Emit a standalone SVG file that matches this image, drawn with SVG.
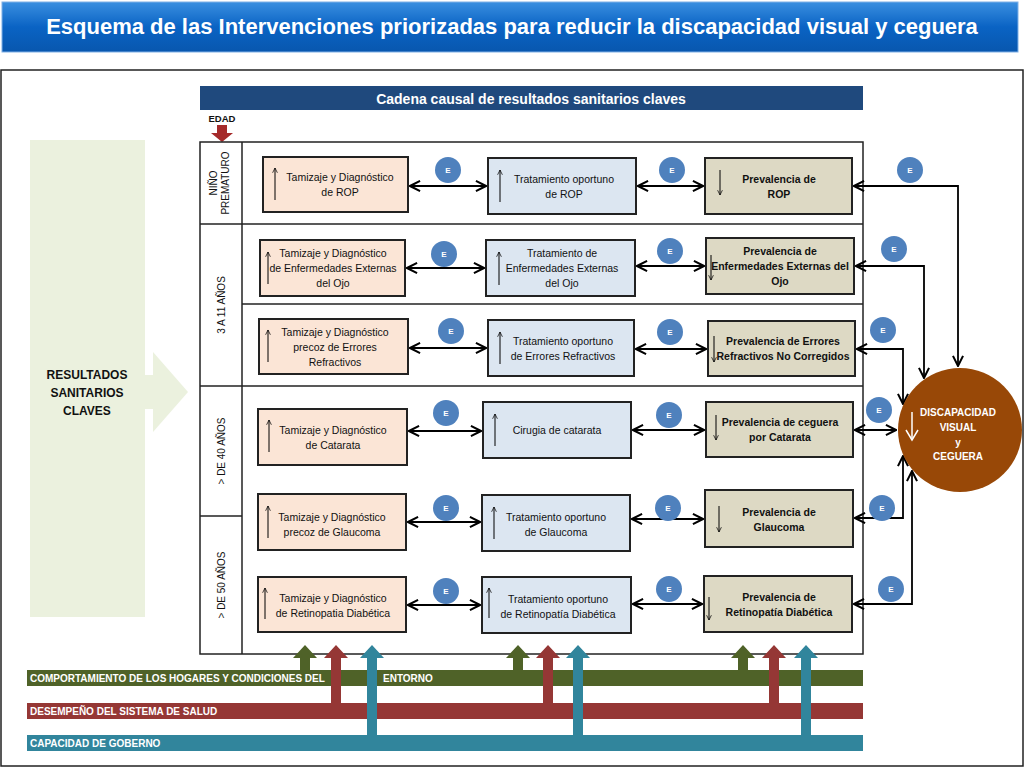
<svg xmlns="http://www.w3.org/2000/svg" width="1024" height="768" viewBox="0 0 1024 768">
<defs>
<linearGradient id="tg" x1="0" y1="0" x2="0" y2="1"><stop offset="0" stop-color="#3a8fe0"/><stop offset="0.5" stop-color="#0a63c4"/><stop offset="1" stop-color="#0857ae"/></linearGradient>
<marker id="ah" viewBox="0 0 10 10" refX="9" refY="5" markerWidth="7" markerHeight="7" orient="auto-start-reverse"><path d="M1,1 L9,5 L1,9" fill="none" stroke="#000" stroke-width="1.6"/></marker>
<marker id="sh" viewBox="0 0 10 10" refX="9" refY="5" markerWidth="6" markerHeight="6" orient="auto"><path d="M1,1 L9,5 L1,9" fill="none" stroke="#000" stroke-width="1.2"/></marker>
<style>
.t{font-family:"Liberation Sans",Arial,sans-serif;font-size:10.5px;fill:#111;text-anchor:middle}
.b{font-weight:bold}
.A{fill:#fbe5d6;stroke:#222;stroke-width:2}
.B{fill:#dce6f1;stroke:#222;stroke-width:2}
.C{fill:#ddd9c4;stroke:#222;stroke-width:2}
.e circle{fill:#4f81bd}
.e text{font-family:"Liberation Sans",sans-serif;font-size:8px;fill:#fff;text-anchor:middle;font-weight:bold}
.c{fill:none;stroke:#000;stroke-width:1.8}
.ia{stroke:#000;stroke-width:1;marker-end:url(#sh)}
.bw{font-family:"Liberation Sans",sans-serif;font-size:10px;fill:#fff;font-weight:bold}
.ag{font-family:"Liberation Sans",sans-serif;font-size:10px;fill:#111;text-anchor:middle}
</style>
</defs>
<rect x="0" y="0" width="1024" height="768" fill="#fff"/>
<g id="title"><rect x="2" y="2" width="1016" height="50" fill="url(#tg)" stroke="#7fb0e6"/>
<text x="512" y="34" style="font-family:'Liberation Sans',Arial,sans-serif;font-size:22px;font-weight:bold;fill:#fff;text-anchor:middle">Esquema de las Intervenciones priorizadas para reducir la discapacidad visual y ceguera</text></g>
<rect x="1" y="70" width="1022" height="696" fill="none" stroke="#222" stroke-width="1.5"/>
<g id="header"><rect x="200" y="86" width="663" height="24" fill="#1f497d"/>
<text x="531" y="104" style="font-family:'Liberation Sans',sans-serif;font-size:14px;font-weight:bold;fill:#fff;text-anchor:middle">Cadena causal de resultados sanitarios claves</text></g>
<g id="edad"><text x="222" y="122" class="t b" style="font-size:9.5px">EDAD</text>
<path d="M217,125 h10 v8 h6 l-11,9 l-11,-9 h6 z" fill="#a52a2a"/></g>
<g id="left"><rect x="30" y="140" width="115" height="477" fill="#ebf1de"/>
<path d="M145,375 h8 v-23 l35,40 l-35,40 v-23 h-8 z" fill="#ebf1de"/>
<text class="t b" style="font-size:12px"><tspan x="87" y="379">RESULTADOS</tspan><tspan x="87" y="397">SANITARIOS</tspan><tspan x="87" y="415">CLAVES</tspan></text></g>
<g id="table" fill="none" stroke="#222" stroke-width="1.5">
<rect x="200" y="142" width="663" height="512" fill="#fff"/>
<line x1="242" y1="142" x2="242" y2="654"/>
<line x1="200" y1="224" x2="863" y2="224"/>
<line x1="242" y1="304" x2="863" y2="304"/>
<line x1="200" y1="386" x2="863" y2="386"/>
<line x1="200" y1="516" x2="242" y2="516"/>
</g>
<g id="ages">
<text class="ag" transform="translate(217,183) rotate(-90)"><tspan x="0" y="0">NIÑO</tspan><tspan x="0" y="12">PREMATURO</tspan></text>
<text class="ag" transform="translate(225,305) rotate(-90)">3 A 11 AÑOS</text>
<text class="ag" transform="translate(225,451) rotate(-90)">&gt; DE 40 AÑOS</text>
<text class="ag" transform="translate(225,585) rotate(-90)">&gt; DE 50 AÑOS</text>
</g>
<g id="connectors">
<line class="c" x1="410" y1="186" x2="486" y2="186" marker-start="url(#ah)" marker-end="url(#ah)"/>
<line class="c" x1="638" y1="186" x2="703" y2="186" marker-start="url(#ah)" marker-end="url(#ah)"/>
<line class="c" x1="407" y1="268" x2="484" y2="268" marker-start="url(#ah)" marker-end="url(#ah)"/>
<line class="c" x1="637" y1="266" x2="704" y2="266" marker-start="url(#ah)" marker-end="url(#ah)"/>
<line class="c" x1="410" y1="348" x2="486" y2="348" marker-start="url(#ah)" marker-end="url(#ah)"/>
<line class="c" x1="636" y1="349" x2="706" y2="349" marker-start="url(#ah)" marker-end="url(#ah)"/>
<line class="c" x1="409" y1="431" x2="481" y2="431" marker-start="url(#ah)" marker-end="url(#ah)"/>
<line class="c" x1="633" y1="430" x2="704" y2="430" marker-start="url(#ah)" marker-end="url(#ah)"/>
<line class="c" x1="408" y1="522" x2="480" y2="522" marker-start="url(#ah)" marker-end="url(#ah)"/>
<line class="c" x1="632" y1="519" x2="703" y2="519" marker-start="url(#ah)" marker-end="url(#ah)"/>
<line class="c" x1="408" y1="605" x2="480" y2="605" marker-start="url(#ah)" marker-end="url(#ah)"/>
<line class="c" x1="633" y1="604" x2="702" y2="604" marker-start="url(#ah)" marker-end="url(#ah)"/>
<path class="c" d="M958,366 V186 H854" marker-start="url(#ah)" marker-end="url(#ah)"/>
<path class="c" d="M924,378 V266 H856" marker-start="url(#ah)" marker-end="url(#ah)"/>
<path class="c" d="M903,404 V349 H857" marker-start="url(#ah)" marker-end="url(#ah)"/>
<line class="c" x1="855" y1="430" x2="896" y2="430" marker-start="url(#ah)" marker-end="url(#ah)"/>
<path class="c" d="M855,518 H903 V456" marker-start="url(#ah)" marker-end="url(#ah)"/>
<path class="c" d="M854,604 H912 V471" marker-start="url(#ah)" marker-end="url(#ah)"/>
</g>
<g id="r1a"><rect class="A" x="263" y="157" width="145" height="55"/><line class="ia" x1="275" y1="200" x2="275" y2="168"/><text class="t"><tspan x="340" y="181">Tamizaje y Diagnóstico</tspan><tspan x="340" y="196">de ROP</tspan></text></g>
<g id="r1b"><rect class="B" x="488" y="158" width="148" height="56"/><line class="ia" x1="500" y1="202" x2="500" y2="170"/><text class="t"><tspan x="564" y="183">Tratamiento oportuno</tspan><tspan x="564" y="198">de ROP</tspan></text></g>
<g id="r1c"><rect class="C" x="705" y="158" width="147" height="56"/><line class="ia" x1="720" y1="170" x2="720" y2="195"/><text class="t b"><tspan x="779" y="183">Prevalencia de</tspan><tspan x="779" y="198">ROP</tspan></text></g>
<g id="r2a"><rect class="A" x="260" y="240" width="145" height="56"/><line class="ia" x1="268" y1="284" x2="268" y2="252"/><text class="t"><tspan x="333" y="257">Tamizaje y Diagnóstico</tspan><tspan x="333" y="272">de Enfermedades Externas</tspan><tspan x="333" y="287">del Ojo</tspan></text></g>
<g id="r2b"><rect class="B" x="486" y="240" width="149" height="56"/><line class="ia" x1="499" y1="285" x2="499" y2="252"/><text class="t"><tspan x="562" y="257">Tratamiento de</tspan><tspan x="562" y="272">Enfermedades Externas</tspan><tspan x="562" y="287">del Ojo</tspan></text></g>
<g id="r2c"><rect class="C" x="706" y="238" width="148" height="56"/><line class="ia" x1="711" y1="255" x2="711" y2="280"/><text class="t b"><tspan x="780" y="255">Prevalencia de</tspan><tspan x="780" y="270">Enfermedades Externas del</tspan><tspan x="780" y="285">Ojo</tspan></text></g>
<g id="r3a"><rect class="A" x="259" y="319" width="149" height="55"/><line class="ia" x1="268" y1="362" x2="268" y2="330"/><text class="t"><tspan x="335" y="336">Tamizaje y Diagnóstico</tspan><tspan x="335" y="351">precoz de  Errores</tspan><tspan x="335" y="366">Refractivos</tspan></text></g>
<g id="r3b"><rect class="B" x="488" y="320" width="146" height="56"/><line class="ia" x1="500" y1="364" x2="500" y2="332"/><text class="t"><tspan x="563" y="345">Tratamiento oportuno</tspan><tspan x="563" y="360">de Errores Refractivos</tspan></text></g>
<g id="r3c"><rect class="C" x="708" y="321" width="147" height="55"/><line class="ia" x1="714" y1="336" x2="714" y2="362"/><text class="t b"><tspan x="783" y="345">Prevalencia de Errores</tspan><tspan x="783" y="360">Refractivos No Corregidos</tspan></text></g>
<g id="r4a"><rect class="A" x="258" y="409" width="149" height="56"/><line class="ia" x1="269" y1="452" x2="269" y2="420"/><text class="t"><tspan x="333" y="434">Tamizaje y Diagnóstico</tspan><tspan x="333" y="449">de Catarata</tspan></text></g>
<g id="r4b"><rect class="B" x="483" y="402" width="148" height="56"/><line class="ia" x1="495" y1="446" x2="495" y2="414"/><text class="t"><tspan x="557" y="434">Cirugia de catarata</tspan></text></g>
<g id="r4c"><rect class="C" x="706" y="402" width="147" height="55"/><line class="ia" x1="716" y1="415" x2="716" y2="440"/><text class="t b"><tspan x="780" y="426">Prevalencia de ceguera</tspan><tspan x="780" y="441">por Catarata</tspan></text></g>
<g id="r5a"><rect class="A" x="258" y="494" width="148" height="56"/><line class="ia" x1="268" y1="538" x2="268" y2="506"/><text class="t"><tspan x="332" y="521">Tamizaje y Diagnóstico</tspan><tspan x="332" y="536">precoz de  Glaucoma</tspan></text></g>
<g id="r5b"><rect class="B" x="482" y="495" width="148" height="56"/><line class="ia" x1="494" y1="539" x2="494" y2="507"/><text class="t"><tspan x="556" y="521">Tratamiento oportuno</tspan><tspan x="556" y="536">de Glaucoma</tspan></text></g>
<g id="r5c"><rect class="C" x="705" y="490" width="148" height="57"/><line class="ia" x1="719" y1="506" x2="719" y2="532"/><text class="t b"><tspan x="779" y="516">Prevalencia de</tspan><tspan x="779" y="531">Glaucoma</tspan></text></g>
<g id="r6a"><rect class="A" x="258" y="577" width="148" height="55"/><line class="ia" x1="265" y1="619" x2="265" y2="588"/><text class="t"><tspan x="333" y="602">Tamizaje y Diagnóstico</tspan><tspan x="333" y="617">de Retinopatia Diabética</tspan></text></g>
<g id="r6b"><rect class="B" x="482" y="577" width="149" height="56"/><line class="ia" x1="489" y1="618" x2="489" y2="588"/><text class="t"><tspan x="558" y="603">Tratamiento oportuno</tspan><tspan x="558" y="618">de Retinopatía Diabética</tspan></text></g>
<g id="r6c"><rect class="C" x="704" y="576" width="148" height="56"/><line class="ia" x1="709" y1="597" x2="709" y2="620"/><text class="t b"><tspan x="779" y="601">Prevalencia de</tspan><tspan x="779" y="616">Retinopatía Diabética</tspan></text></g>
<g id="outcome"><circle cx="960" cy="430" r="62" fill="#984807"/>
<line x1="912" y1="412" x2="912" y2="438" stroke="#fff" stroke-width="1.5"/><path d="M906,430 L912,440 L918,430" fill="none" stroke="#fff" stroke-width="1.5"/>
<text class="t b" style="fill:#fff;font-size:10px"><tspan x="958" y="416">DISCAPACIDAD</tspan><tspan x="958" y="431">VISUAL</tspan><tspan x="958" y="446">y</tspan><tspan x="958" y="460">CEGUERA</tspan></text></g>
<g id="effects" class="e">
<circle cx="448" cy="170" r="13"/><text x="448" y="173">E</text>
<circle cx="672" cy="170" r="13"/><text x="672" y="173">E</text>
<circle cx="910" cy="170" r="13"/><text x="910" y="173">E</text>
<circle cx="444" cy="254" r="13"/><text x="444" y="257">E</text>
<circle cx="670" cy="251" r="13"/><text x="670" y="254">E</text>
<circle cx="894" cy="249" r="13"/><text x="894" y="252">E</text>
<circle cx="451" cy="331" r="13"/><text x="451" y="334">E</text>
<circle cx="670" cy="332" r="13"/><text x="670" y="335">E</text>
<circle cx="883" cy="330" r="13"/><text x="883" y="333">E</text>
<circle cx="446" cy="413" r="13"/><text x="446" y="416">E</text>
<circle cx="669" cy="415" r="13"/><text x="669" y="418">E</text>
<circle cx="879" cy="410" r="13"/><text x="879" y="413">E</text>
<circle cx="446" cy="508" r="13"/><text x="446" y="511">E</text>
<circle cx="668" cy="508" r="13"/><text x="668" y="511">E</text>
<circle cx="882" cy="508" r="13"/><text x="882" y="511">E</text>
<circle cx="446" cy="591" r="13"/><text x="446" y="594">E</text>
<circle cx="669" cy="589" r="13"/><text x="669" y="592">E</text>
<circle cx="891" cy="589" r="13"/><text x="891" y="592">E</text>
</g>
<g id="bands">
<rect x="27" y="670" width="836" height="16" fill="#4f6228"/>
<rect x="27" y="703" width="836" height="16" fill="#953735"/>
<rect x="27" y="735" width="836" height="16" fill="#31859c"/>
<text class="bw" x="30" y="682">COMPORTAMIENTO DE LOS HOGARES Y CONDICIONES DEL</text>
<text class="bw" x="383" y="682">ENTORNO</text>
<text class="bw" x="30" y="715">DESEMPEÑO DEL SISTEMA DE SALUD</text>
<text class="bw" x="30" y="747">CAPACIDAD DE GOBERNO</text>
</g>
<g id="influences">
<path d="M300,670 v-12 h-7 l12,-13 l12,13 h-7 v12 z" fill="#4f6228"/>
<path d="M513,670 v-12 h-7 l12,-13 l12,13 h-7 v12 z" fill="#4f6228"/>
<path d="M738,670 v-12 h-7 l12,-13 l12,13 h-7 v12 z" fill="#4f6228"/>
<path d="M331,703 v-45 h-7 l12,-13 l12,13 h-7 v45 z" fill="#953735"/>
<path d="M543,703 v-45 h-7 l12,-13 l12,13 h-7 v45 z" fill="#953735"/>
<path d="M769,703 v-45 h-7 l12,-13 l12,13 h-7 v45 z" fill="#953735"/>
<path d="M367,735 v-77 h-7 l12,-13 l12,13 h-7 v77 z" fill="#31859c"/>
<path d="M573,735 v-77 h-7 l12,-13 l12,13 h-7 v77 z" fill="#31859c"/>
<path d="M801,735 v-77 h-7 l12,-13 l12,13 h-7 v77 z" fill="#31859c"/>
</g>
</svg>
